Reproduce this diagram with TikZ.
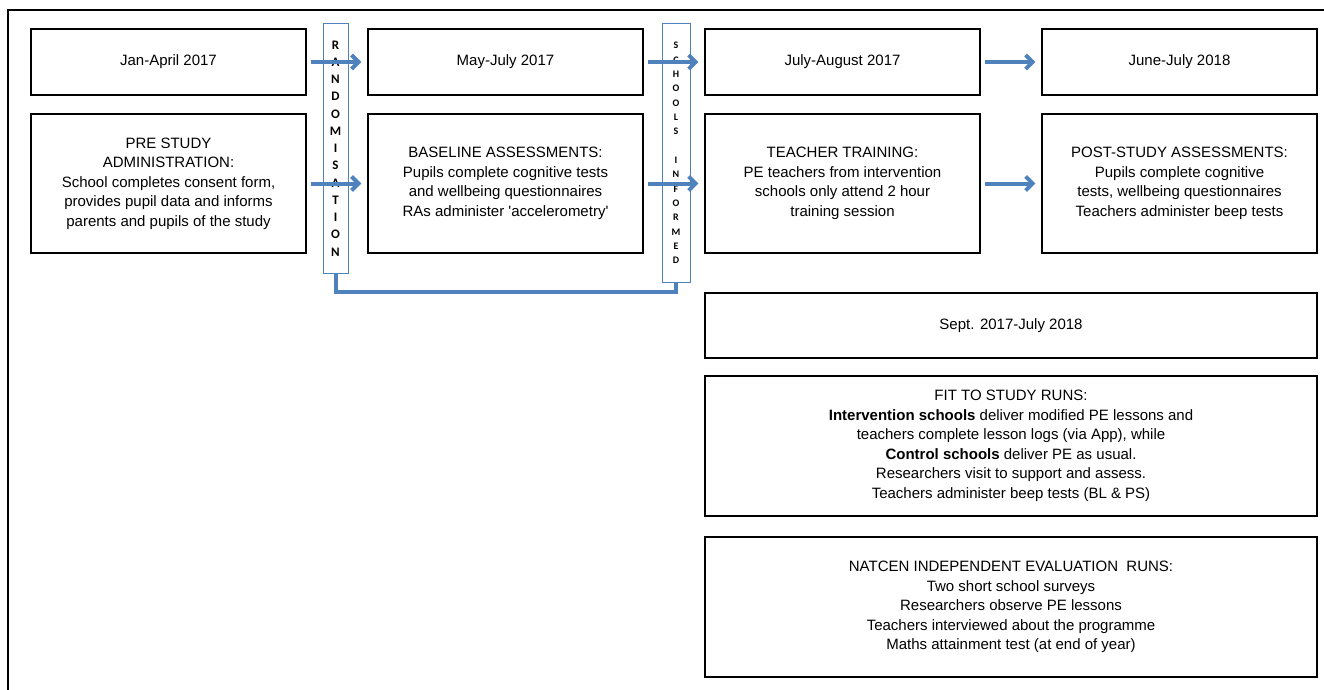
\documentclass[tikz,border=0pt]{standalone}
\usepackage{fontspec}
\setmainfont{Liberation Sans}
\newfontfamily\barfont{Carlito}
\usetikzlibrary{arrows.meta,shadows}
\definecolor{flowblue}{HTML}{4F81BD}

\begin{document}
\begin{tikzpicture}[x=1pt,y=-1pt,
    stage/.style={draw,line width=1.2pt,fill=white,align=center,inner sep=0pt,
        font=\fontsize{15}{19.5}\selectfont,
        drop shadow={shadow xshift=1.2pt,shadow yshift=-1.2pt,opacity=1,fill=black}},
    datebox/.style={stage,minimum width=275pt,minimum height=66pt},
    taskbox/.style={stage,minimum width=275pt,minimum height=139pt},
    widebox/.style={stage,minimum width=612pt},
    bar/.style={draw=flowblue,line width=1pt,align=center,inner sep=0pt},
    flow/.style={draw=flowblue,line width=4pt,-{Straight Barb[length=7pt,width=14pt]},
        shorten <=4pt,shorten >=6pt},
    link/.style={draw=flowblue,line width=4pt}]
    \useasboundingbox (0,0) rectangle (1324,690);
    \draw[line width=1.6pt] (1324,10)--(8,10)--(8,690);

    \node[datebox](jan) at (168.5,62) {Jan-April 2017};
    \node[taskbox](pre) at (168.5,183.5) {PRE STUDY\\ADMINISTRATION:\\School completes consent form,\\provides pupil data and informs\\parents and pupils of the study};
    \node[datebox](may) at (505.5,62) {May-July 2017};
    \node[taskbox](base) at (505.5,183.5) {BASELINE ASSESSMENTS:\\Pupils complete cognitive tests\\and wellbeing questionnaires\\RAs administer \textquotesingle accelerometry\textquotesingle};
    \node[datebox](jul) at (842.5,62) {July-August 2017};
    \node[taskbox](teach) at (842.5,183.5) {TEACHER TRAINING:\\PE teachers from intervention\\schools only attend 2 hour\\training session};
    \node[datebox](jun) at (1179.5,62) {June-July 2018};
    \node[taskbox](post) at (1179.5,183.5) {POST-STUDY ASSESSMENTS:\\Pupils complete cognitive\\tests, wellbeing questionnaires\\Teachers administer beep tests};

    \node[widebox,minimum height=65pt](sept) at (1011,325.5) {Sept. 2017-July 2018};
    \node[widebox,minimum height=140pt](fit) at (1011,446) {FIT TO STUDY RUNS:\\\textbf{Intervention schools} deliver modified PE lessons and\\teachers complete lesson logs (via App), while\\\textbf{Control schools} deliver PE as usual.\\Researchers visit to support and assess.\\Teachers administer beep tests (BL \& PS)};
    \node[widebox,minimum height=140pt](natcen) at (1011,607) {NATCEN INDEPENDENT EVALUATION\ \ RUNS:\\Two short school surveys\\Researchers observe PE lessons\\Teachers interviewed about the programme\\Maths attainment test (at end of year)};

    \node[bar,minimum width=25pt,minimum height=249pt,font=\barfont\bfseries\fontsize{13}{17.25}\selectfont](rand) at (335.5,148.5)
        {R\\A\\N\\D\\O\\M\\I\\S\\A\\T\\I\\O\\N};
    \node[bar,minimum width=28pt,minimum height=258pt,font=\barfont\bfseries\fontsize{10}{14.33}\selectfont](info) at (676,153)
        {S\\C\\H\\O\\O\\L\\S\\\mbox{}\\I\\N\\F\\O\\R\\M\\E\\D};

    \draw[flow] (jan)--(may);
    \draw[flow] (pre)--(base);
    \draw[flow] (may)--(jul);
    \draw[flow] (base)--(teach);
    \draw[flow] (jul)--(jun);
    \draw[flow] (teach)--(post);
    \draw[link] (rand.south)--++(0,18)-|(info.south);
\end{tikzpicture}
\end{document}
